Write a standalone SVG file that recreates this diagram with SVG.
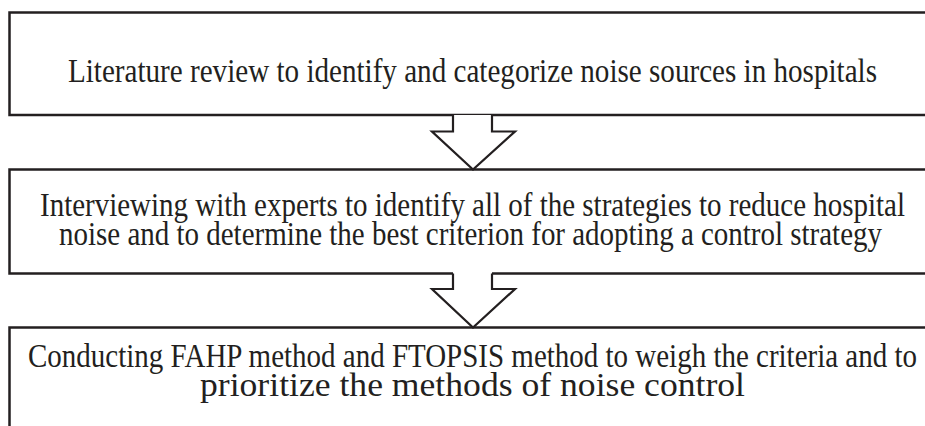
<svg xmlns="http://www.w3.org/2000/svg" width="925" height="426" viewBox="0 0 925 426">
<style>
.box{fill:none;stroke:#231f20;stroke-width:2.5}
.arr{fill:#ffffff;stroke:#231f20;stroke-width:2.2;stroke-linejoin:miter}
.t{font-family:"Liberation Serif","Times New Roman",serif;font-size:34px;fill:#231f20;text-anchor:middle}
</style>
<rect width="925" height="426" fill="#ffffff"/>
<g id="node1">
<path class="box" d="M492,115 H9.5 V12.5 H930 M930,115 H492 M453,115 H9.5"/>
<text class="t" x="472.5" y="82" textLength="809" lengthAdjust="spacingAndGlyphs">Literature review to identify and categorize noise sources in hospitals</text>
</g>
<g id="node2">
<path class="box" d="M930,169.5 H9.5 V273.5 H453 M492,273.5 H930"/>
<text class="t" x="472.5" y="216" textLength="865" lengthAdjust="spacingAndGlyphs">Interviewing with experts to identify all of the strategies to reduce hospital</text>
<text class="t" x="470.5" y="245" textLength="823" lengthAdjust="spacingAndGlyphs">noise and to determine the best criterion for adopting a control strategy</text>
</g>
<g id="node3">
<path class="box" d="M930,327.5 H9.5 V440"/>
<text class="t" x="472.5" y="367" textLength="889" lengthAdjust="spacingAndGlyphs">Conducting FAHP method and FTOPSIS method to weigh the criteria and to</text>
<text class="t" x="472.5" y="396" textLength="545" lengthAdjust="spacingAndGlyphs">prioritize the methods of noise control</text>
</g>
<g id="connectors">
<path class="arr" d="M453,115 V131.5 H432 L473,169.5 L515,131.5 H492 V115"/>
<path class="arr" d="M453,273.5 V289 H432 L473,327.5 L515,289 H492 V273.5"/>
</g>
</svg>
